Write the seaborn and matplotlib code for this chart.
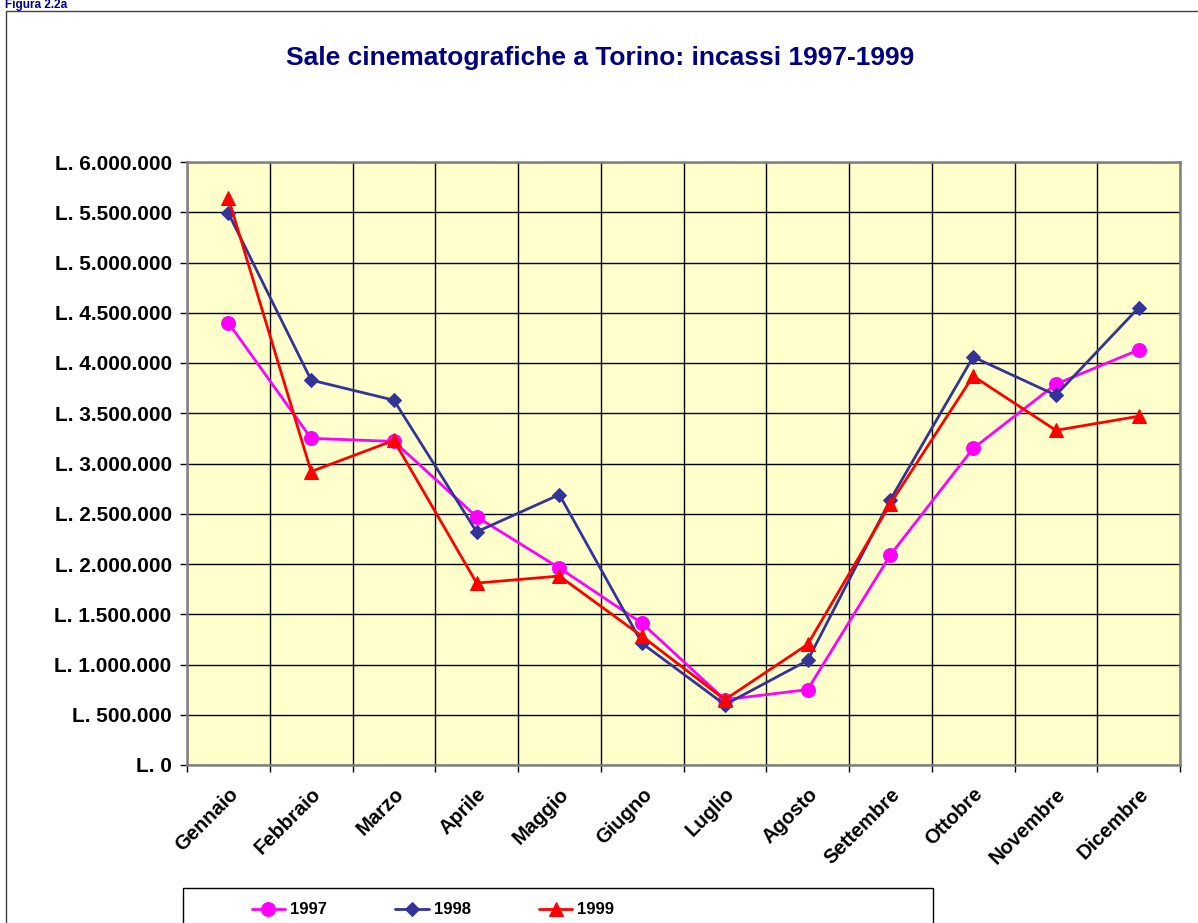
import matplotlib
matplotlib.use("Agg")
import matplotlib.pyplot as plt
from matplotlib.patches import Rectangle
from matplotlib.ticker import FuncFormatter, MultipleLocator, FixedLocator
import seaborn as sns
import pandas as pd

months = ["Gennaio", "Febbraio", "Marzo", "Aprile", "Maggio", "Giugno",
          "Luglio", "Agosto", "Settembre", "Ottobre", "Novembre", "Dicembre"]
v1997 = [4400000, 3250000, 3220000, 2470000, 1960000, 1410000,
         650000, 750000, 2090000, 3150000, 3790000, 4130000]
v1998 = [5490000, 3830000, 3630000, 2320000, 2690000, 1210000,
         600000, 1040000, 2640000, 4060000, 3680000, 4550000]
v1999 = [5640000, 2920000, 3230000, 1810000, 1880000, 1280000,
         650000, 1200000, 2600000, 3870000, 3330000, 3470000]
years = ["1997", "1998", "1999"]

df = pd.DataFrame({
    "pos": list(range(len(months))) * 3,
    "mese": months * 3,
    "valore": v1997 + v1998 + v1999,
    "anno": ["1997"] * 12 + ["1998"] * 12 + ["1999"] * 12,
})

sns.set_theme(style="white")
plt.rcParams["font.family"] = ["Liberation Sans", "DejaVu Sans"]
plt.rcParams["font.weight"] = "bold"
plt.rcParams["text.color"] = "black"
plt.rcParams["xtick.color"] = "black"
plt.rcParams["ytick.color"] = "black"

W, H = 1198, 923
fig = plt.figure(figsize=(W / 100, H / 100), dpi=100)
fig.patch.set_facecolor("white")

# outer border
fig.patches.append(Rectangle((6 / W, -0.1), 1.2, 1 - 11 / H + 0.1, transform=fig.transFigure,
                             fill=False, edgecolor="#404040", linewidth=1.0, zorder=0))
fig.text(5 / W, 1 - 8 / H, "Figura 2.2a", color="#000080", fontsize=8.5, fontweight="bold",
         ha="left", va="baseline")

ax = fig.add_axes([187 / W, 1 - 765 / H, (1180 - 187) / W, (765 - 162) / H])
ax.set_facecolor("#FFFFCC")

palette = {"1997": "#FF00FF", "1998": "#333399", "1999": "#FF0000"}
markers = {"1997": "o", "1998": "D", "1999": "^"}
sizes_m = {"1997": 10, "1998": 7.5, "1999": 10}

for y in years:
    sub = df[df["anno"] == y]
    sns.lineplot(data=sub, x="pos", y="valore", ax=ax, color=palette[y], marker=markers[y],
                 markersize=sizes_m[y], markeredgecolor=palette[y], linewidth=2,
                 label=y, legend=False, zorder=3)

ax.set_xlim(-0.5, len(months) - 0.5)
ax.set_ylim(0, 6000000)
ax.yaxis.set_major_locator(MultipleLocator(500000))

def fmt(v, p):
    n = int(round(v))
    s = f"{n:,}".replace(",", ".")
    return f"L. {s}"
ax.yaxis.set_major_formatter(FuncFormatter(fmt))

ax.set_xticks(range(len(months)))
ax.set_xticklabels(months, rotation=45, ha="right", rotation_mode="anchor",
                   fontsize=14.5, fontweight="bold", color="black")
ax.xaxis.set_minor_locator(FixedLocator([i + 0.5 for i in range(-1, len(months))]))
ax.tick_params(axis="x", which="major", length=0, pad=14)
ax.tick_params(axis="x", which="minor", length=5, width=1, color="black", direction="out", bottom=True)
ax.tick_params(axis="y", which="major", length=5, width=1, color="black", direction="out",
               left=True, labelsize=15, pad=6)
for lab in ax.get_yticklabels():
    lab.set_fontweight("bold")
    lab.set_color("black")

ax.grid(False)
ax.yaxis.grid(True, color="black", linewidth=1, zorder=1)
ax.xaxis.grid(True, which="minor", color="black", linewidth=1, zorder=1)
ax.set_axisbelow(True)
for s in ax.spines.values():
    s.set_color("#808080")
    s.set_linewidth(1.8)
    s.set_visible(True)

ax.set_xlabel("")
ax.set_ylabel("")

fig.text(600 / W, 1 - 58 / H, "Sale cinematografiche a Torino: incassi 1997-1999",
         color="#000080", fontsize=19, fontweight="bold", ha="center", va="center")

# legend box
fig.patches.append(Rectangle((183 / W, -0.05), (933 - 183) / W, 0.05 + (923 - 888) / H,
                             transform=fig.transFigure, fill=False, edgecolor="black",
                             linewidth=1.0, zorder=5))
handles, labels = ax.get_legend_handles_labels()
leg = fig.legend(handles, labels, loc="center", bbox_to_anchor=(433 / W, 1 - 910 / H),
                 ncol=3, frameon=False, handlelength=2.0, columnspacing=4.1,
                 handletextpad=0.3, prop={"weight": "bold", "size": 12})

fig.savefig("out.png", dpi=100)
